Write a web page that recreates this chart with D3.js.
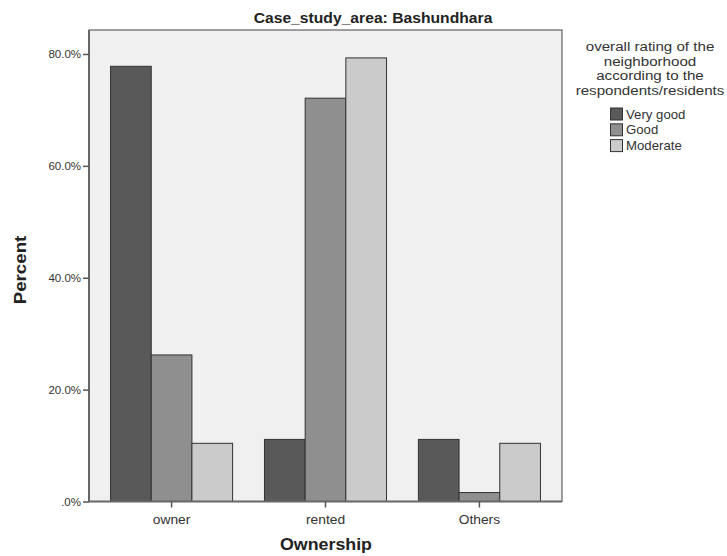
<!DOCTYPE html>
<html><head><meta charset="utf-8">
<script src="https://cdn.jsdelivr.net/npm/d3@7"></script>
<style>body{margin:0;background:#fff}svg{display:block;font-family:"Liberation Sans",Arial,sans-serif}</style>
</head><body>
<svg id="c" width="727" height="556"></svg>
<script>
const categories = ["owner", "rented", "Others"];
const seriesNames = ["Very good", "Good", "Moderate"];
const veryGood = [77.8, 11.1, 11.1];
const good = [26.2, 72.1, 1.6];
const moderate = [10.4, 79.3, 10.4];
const yTicks = [0, 20, 40, 60, 80];
const colors = ["#595959", "#8f8f8f", "#cbcbcb"];

const seriesValues = [veryGood, good, moderate];
const svg = d3.select("#c");
const L = 89, R = 562, T = 30, B = 501.5;

function txt(x, y, s, size, opts = {}) {
  const sx = opts.sx || 1, rot = opts.rot || 0;
  return svg.append("text")
    .attr("transform", `translate(${x},${y}) rotate(${rot}) scale(${sx},1)`)
    .attr("text-anchor", opts.anchor || "middle")
    .attr("font-size", size).attr("font-weight", opts.bold ? "bold" : "normal")
    .attr("fill", opts.fill || "#333").text(s);
}

svg.append("rect").attr("x", L).attr("y", T).attr("width", R - L).attr("height", B - T)
  .attr("fill", "#f0f0f0").attr("stroke", "#444").attr("stroke-width", 1);

const x = d3.scaleBand().domain(categories).range([L, R]).paddingInner(0.207).paddingOuter(0.14);
const xs = d3.scaleBand().domain(seriesNames).range([0, x.bandwidth()]);
const y = d3.scaleLinear().domain([0, 80]).range([B, B - 80 * 5.594]);

const g = svg.append("g");
categories.forEach((c, ci) => {
  seriesNames.forEach((s, si) => {
    const v = seriesValues[si][ci];
    g.append("rect")
      .attr("x", x(c) + xs(s)).attr("y", y(v))
      .attr("width", xs.bandwidth()).attr("height", B - y(v))
      .attr("fill", colors[si]).attr("stroke", "#333").attr("stroke-width", 1);
  });
});

const yAxis = svg.append("g").attr("transform", `translate(${L},0)`)
  .call(d3.axisLeft(y).tickValues(yTicks).tickSize(6).tickPadding(2)
    .tickFormat(d => d === 0 ? ".0%" : d.toFixed(1) + "%"));
yAxis.selectAll("text").attr("font-size", 11.5).attr("fill", "#333").attr("font-family", "Liberation Sans, Arial");
yAxis.selectAll("line").attr("stroke", "#555").attr("stroke-width", 1.5);
yAxis.select(".domain").attr("stroke", "#666").attr("stroke-width", 2).attr("d", `M0,${T}V${B}`);

const xAxis = svg.append("g").attr("transform", `translate(0,${B})`)
  .call(d3.axisBottom(x).tickSize(6).tickPadding(6));
xAxis.selectAll("text").attr("font-size", 12).attr("fill", "#333").attr("font-family", "Liberation Sans, Arial")
  .attr("transform", "scale(1.15,1)")
  .each(function() {
    const t = d3.select(this.parentNode).attr("transform");
  });
// keep x tick labels centred: scale around each tick's origin
xAxis.selectAll(".tick text").attr("transform", "scale(1.15,1)").attr("dy", "0.9em");
xAxis.selectAll("line").attr("stroke", "#555").attr("stroke-width", 1.5);
xAxis.select(".domain").attr("stroke", "#666").attr("stroke-width", 2).attr("d", `M${L},0H${R}`);

txt(373, 23, "Case_study_area: Bashundhara", 14, { bold: true, sx: 1.12, fill: "#222" });
txt(326, 550, "Ownership", 16.5, { bold: true, sx: 1.08, fill: "#222" });
txt(26, 270, "Percent", 16, { bold: true, sx: 1.17, rot: -90, fill: "#222" });

const legTitle = ["overall rating of the", "neighborhood", "according to the", "respondents/residents"];
legTitle.forEach((t, i) => txt(650, 51 + i * 14.6, t, 13.5, { sx: 1.12 }));
seriesNames.forEach((s, i) => {
  const yy = 108 + i * 15.8;
  svg.append("rect").attr("x", 610.5).attr("y", yy).attr("width", 12).attr("height", 12)
    .attr("fill", colors[i]).attr("stroke", "#333");
  txt(626, yy + 10.5, s, 12, { sx: 1.1, anchor: "start" });
});
</script>
</body></html>
